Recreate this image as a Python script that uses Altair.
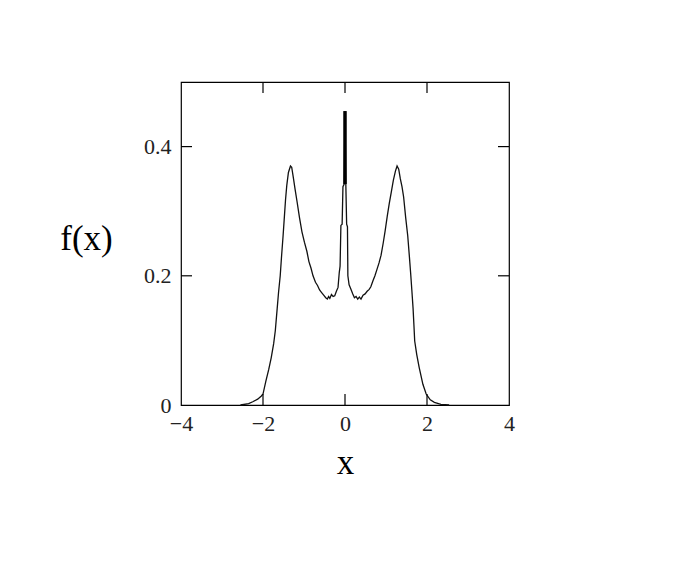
import altair as alt
import pandas as pd

# curve values
xs = [-2.55, -2.35, -2.25, -2.13, -2.04, -2.00, -1.93, -1.86, -1.80, -1.74,
      -1.70, -1.66, -1.62, -1.58, -1.55, -1.51, -1.48, -1.45, -1.42, -1.38,
      -1.33, -1.30, -1.26, -1.22, -1.17, -1.11, -1.05, -0.99, -0.93, -0.88,
      -0.83, -0.78, -0.72, -0.67, -0.62, -0.57, -0.52, -0.47, -0.43, -0.40,
      -0.37, -0.33, -0.29, -0.25, -0.21, -0.17, -0.14, -0.12, -0.10, -0.07,
      -0.05, -0.02, 0.00, 0.02, 0.04, 0.06, 0.07, 0.10, 0.14, 0.19,
      0.23, 0.27, 0.31, 0.35, 0.39, 0.44, 0.49, 0.54, 0.59, 0.63,
      0.68, 0.73, 0.78, 0.83, 0.88, 0.93, 0.98, 1.03, 1.08, 1.13,
      1.18, 1.23, 1.27, 1.31, 1.35, 1.39, 1.43, 1.48, 1.53, 1.57,
      1.60, 1.63, 1.66, 1.68, 1.70, 1.75, 1.81, 1.90, 1.98, 2.08,
      2.18, 2.34, 2.54]
ys = [0.000, 0.002, 0.005, 0.009, 0.014, 0.017, 0.037, 0.055, 0.073, 0.095,
      0.115, 0.145, 0.175, 0.200, 0.228, 0.262, 0.290, 0.318, 0.340, 0.360,
      0.370, 0.368, 0.352, 0.335, 0.315, 0.290, 0.268, 0.252, 0.238, 0.222,
      0.212, 0.200, 0.190, 0.185, 0.178, 0.174, 0.170, 0.166, 0.164, 0.168,
      0.165, 0.171, 0.168, 0.169, 0.176, 0.182, 0.205, 0.215, 0.278, 0.280,
      0.338, 0.342, 0.455, 0.342, 0.280, 0.276, 0.200, 0.186, 0.180, 0.172,
      0.166, 0.168, 0.164, 0.167, 0.164, 0.170, 0.172, 0.176, 0.179, 0.183,
      0.192, 0.200, 0.210, 0.220, 0.232, 0.250, 0.270, 0.292, 0.312, 0.330,
      0.348, 0.362, 0.370, 0.365, 0.350, 0.338, 0.322, 0.290, 0.262, 0.230,
      0.205, 0.178, 0.150, 0.125, 0.099, 0.078, 0.058, 0.032, 0.017, 0.008,
      0.004, 0.001, 0.000]

# central spike (drawn thick)
spike_x = [0.0]
spike_lo = [0.342]
spike_hi = [0.455]

# tick positions
x_ticks = [-2, 0, 2]
y_ticks = [0.2, 0.4]
x_labels = [-4, -2, 0, 2, 4]
y_labels = [0, 0.2, 0.4]

W, H = 328, 323
SERIF = "Liberation Serif"

curve = pd.DataFrame({"x": xs, "y": ys})
spike = pd.DataFrame({"x": spike_x, "lo": spike_lo, "hi": spike_hi})
xt = pd.DataFrame({"x": x_ticks})
yt = pd.DataFrame({"y": y_ticks})

xscale = alt.Scale(domain=[-4, 4], nice=False, zero=False)
yscale = alt.Scale(domain=[0, 0.5], nice=False)

xaxis = alt.Axis(values=x_labels, title="x", domain=False, ticks=False, grid=False,
                 labelFlush=False, labelFont=SERIF, labelFontSize=22, labelColor="#222222",
                 labelPadding=8, titleFont=SERIF, titleFontSize=35,
                 titleFontWeight="normal", titleColor="black", titlePadding=11)
yaxis = alt.Axis(values=y_labels, title="f(x)", domain=False, ticks=False, grid=False,
                 labelFlush=False, format="~g", labelFont=SERIF, labelFontSize=22,
                 labelColor="#222222", labelPadding=10, titleFont=SERIF, titleFontSize=35,
                 titleFontWeight="normal", titleColor="black", titleAngle=0,
                 titleAlign="center", titleBaseline="middle", titleX=-95, titleY=156)

line = alt.Chart(curve).mark_line(color="#111111", strokeWidth=1.3).encode(
    x=alt.X("x:Q", scale=xscale, axis=xaxis),
    y=alt.Y("y:Q", scale=yscale, axis=yaxis),
)

spk = alt.Chart(spike).mark_rule(color="black", strokeWidth=3.5).encode(
    x=alt.X("x:Q", scale=xscale), y="lo:Q", y2="hi:Q"
)

tl = 11
bottom_ticks = alt.Chart(xt).mark_rule(color="black", strokeWidth=1.2).encode(
    x=alt.X("x:Q", scale=xscale), y=alt.value(H), y2=alt.value(H - tl))
top_ticks = alt.Chart(xt).mark_rule(color="black", strokeWidth=1.2).encode(
    x=alt.X("x:Q", scale=xscale), y=alt.value(0), y2=alt.value(tl))
left_ticks = alt.Chart(yt).mark_rule(color="black", strokeWidth=1.2).encode(
    y=alt.Y("y:Q", scale=yscale), x=alt.value(0), x2=alt.value(tl))
right_ticks = alt.Chart(yt).mark_rule(color="black", strokeWidth=1.2).encode(
    y=alt.Y("y:Q", scale=yscale), x=alt.value(W), x2=alt.value(W - tl))

chart = alt.layer(line, spk, bottom_ticks, top_ticks, left_ticks, right_ticks).properties(
    width=W, height=H, background="white",
    padding={"left": 51, "top": 73, "right": 20, "bottom": 20},
).configure_view(stroke="black", strokeWidth=1.2)

chart.save("out.html", embed_options={"renderer": "svg", "actions": False})
